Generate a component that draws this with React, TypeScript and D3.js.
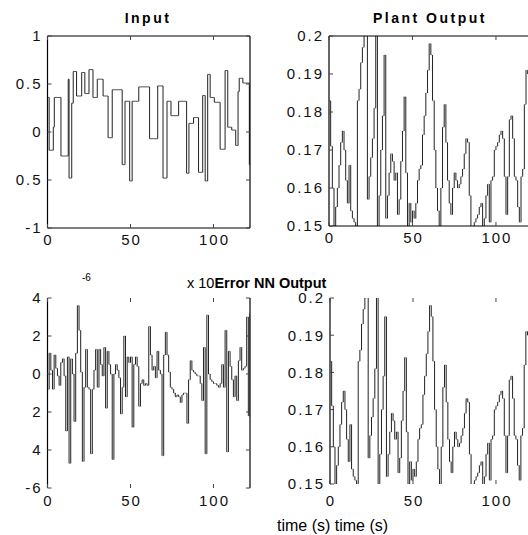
import React from 'react';
import * as d3 from 'd3';

// ---------- data ----------
const xTicks = [0, 50, 100];
const xLimit = [0, 122];

const inputTimes = [0, 1, 3.5, 4.1, 8.1, 12.5, 13, 14.6, 15.5, 17.5, 20.6, 22.5, 25, 27.4, 30, 33.5, 36.5, 39, 45, 46.7,
  49.5, 51, 55, 61.5, 66.4, 69.6, 72, 74.4, 79, 83.8, 85.2, 88, 91, 93.5, 95, 96.5, 98, 100.5, 104, 107,
  108.6, 111, 113.4, 114.8, 115.5, 117.7, 121.6];
const inputValues = [0.36, -0.19, 0.05, 0.36, -0.25, 0.55, -0.48, 0.3, 0.63, 0.375, 0.62, 0.4, 0.65, 0.36, 0.55, 0.375, -0.06, 0.44, -0.34, 0.32,
  -0.51, 0.32, 0.47, -0.07, 0.48, -0.48, 0.32, 0.17, 0.32, -0.43, 0.09, 0.15, -0.42, 0.38, -0.51, 0.6, 0.36, 0.31, -0.18, 0.64,
  0.05, 0.02, -0.14, 0.42, 0.56, 0.51, -0.34];
const inputYTicks = [-1, -0.5, 0, 0.5, 1];
const inputYTickLabels = ['-1', '0.5', '0', '0.5', '1'];

const plantOutput = [
  0.183, 0.171, 0.160, 0.150, 0.155, 0.160, 0.166, 0.172, 0.175, 0.170,
  0.162, 0.156, 0.166, 0.154, 0.152, 0.151, 0.150, 0.183, 0.186, 0.193,
  0.197, 0.200, 0.203, 0.157, 0.163, 0.168, 0.173, 0.181, 0.205, 0.149,
  0.158, 0.170, 0.179, 0.195, 0.152, 0.158, 0.164, 0.169, 0.167, 0.162,
  0.164, 0.153, 0.157, 0.167, 0.175, 0.184, 0.164, 0.150, 0.156, 0.151,
  0.154, 0.152, 0.156, 0.162, 0.165, 0.166, 0.174, 0.179, 0.185, 0.191,
  0.198, 0.195, 0.183, 0.170, 0.160, 0.154, 0.150, 0.160, 0.176, 0.182,
  0.172, 0.162, 0.156, 0.153, 0.160, 0.164, 0.162, 0.160, 0.161, 0.163,
  0.165, 0.169, 0.173, 0.172, 0.158, 0.149, 0.150, 0.151, 0.152, 0.153,
  0.155, 0.156, 0.149, 0.152, 0.158, 0.161, 0.151, 0.162, 0.163, 0.170,
  0.171, 0.172, 0.174, 0.175, 0.173, 0.163, 0.153, 0.163, 0.178, 0.179,
  0.173, 0.163, 0.162, 0.155, 0.151, 0.163, 0.165, 0.182, 0.191, 0.190,
  0.192, 0.190];
const outputYTicks = [0.15, 0.16, 0.17, 0.18, 0.19, 0.2];
const outputYTickLabels = ['0.15', '0.16', '0.17', '0.18', '0.19', '0.2'];

const errorValues = [
  -0.8, 1.1, 0.2, -0.8, 1.0, 0.3, -0.1, -0.6, 0.6, 0.8,
  -0.1, -3.0, 0.9, -4.7, 0.8, 0.0, -2.5, 1.1, 3.6, 2.3,
  0.1, -4.6, -0.7, 1.3, -0.7, -0.8, -4.2, -0.8, 0.2, 1.3,
  -0.7, 1.3, 0.5, -0.1, 1.4, -1.8, 1.2, 0.5, 0.0, -4.5,
  0.0, 0.5, 0.2, -0.2, -2.1, -0.7, 2.0, -1.2, 0.9, 0.6,
  0.9, -2.8, 0.5, 0.9, 0.4, -1.7, -0.5, -0.3, -0.6, -0.5,
  -0.6, 2.5, 1.0, 0.2, 0.4, -0.2, 1.2, 0.2, 0.0, -4.3,
  1.0, 2.2, 1.0, 0.1, -0.7, -0.8, -1.0, -1.2, -1.1, -1.2,
  -1.5, -1.1, -1.0, -1.0, -2.6, -0.3, 0.7, 0.2, 0.1, 0.0,
  -0.1, -0.1, -0.5, -1.4, 1.4, -4.2, 3.1, 0.0, -0.3, -0.4,
  -0.5, -0.5, -0.6, -0.7, -0.5, 0.5, -0.7, 2.3, -4.1, 1.2,
  0.4, -0.3, -1.2, -0.1, -1.4, 0.7, 1.4, 0.2, 0.3, 0.4,
  3.0, -2.2, 3.2];
const errorYTicks = [-6, -4, -2, 0, 2, 4];
const errorYTickLabels = ['-6', '4', '2', '0', '2', '4'];

// NN output equals the plant output up to the 1e-6 error
const nnOutput = plantOutput.map((v, i) => v + (errorValues[i] ?? 0) * 1e-6);

// ---------- drawing ----------
const FONT = '"Liberation Sans", Arial, Helvetica, sans-serif';

type PanelProps = {
  id: string;
  x0: number; x1: number; yTop: number; yBot: number;
  yDomain: [number, number];
  times: number[]; values: number[]; end: number;
  yTicks: number[]; yTickLabels: string[];
  frame: { top: boolean; bottom: boolean; left: boolean; right: boolean };
  xLabelBaseline: number;
  hColor: string;
};

function Panel(p: PanelProps) {
  const xs = d3.scaleLinear().domain(xLimit).range([p.x0, p.x1]);
  const ys = d3.scaleLinear().domain(p.yDomain).range([p.yBot, p.yTop]);
  let hPath = '';
  let vPath = '';
  for (let i = 0; i < p.values.length; i++) {
    const t = p.times[i];
    const tn = i + 1 < p.times.length ? p.times[i + 1] : p.end;
    const y = ys(p.values[i]);
    hPath += `M${xs(t)},${y}H${xs(tn)}`;
    if (i > 0) vPath += `M${xs(t)},${ys(p.values[i - 1])}V${y}`;
  }
  const tick = 4;
  return (
    <g>
      <defs>
        <clipPath id={p.id}>
          <rect x={p.x0} y={p.yTop} width={p.x1 - p.x0} height={p.yBot - p.yTop} />
        </clipPath>
      </defs>
      <g clipPath={`url(#${p.id})`} fill="none">
        <path d={hPath} stroke={p.hColor} strokeWidth={1} />
        <path d={vPath} stroke="#222" strokeWidth={1} />
      </g>
      <g stroke="#000" strokeWidth={1.2}>
        {p.frame.top && <line x1={p.x0} x2={p.x1} y1={p.yTop} y2={p.yTop} />}
        {p.frame.bottom && <line x1={p.x0} x2={p.x1} y1={p.yBot} y2={p.yBot} />}
        {p.frame.left && <line x1={p.x0} x2={p.x0} y1={p.yTop} y2={p.yBot} />}
        {p.frame.right && <line x1={p.x1} x2={p.x1} y1={p.yTop} y2={p.yBot} />}
      </g>
      <g stroke="#444" strokeWidth={1}>
        {xTicks.map((t) => (
          <g key={'xt' + t}>
            <line x1={xs(t)} x2={xs(t)} y1={p.yBot} y2={p.yBot - tick} />
            <line x1={xs(t)} x2={xs(t)} y1={p.yTop} y2={p.yTop + tick} />
          </g>
        ))}
        {p.yTicks.map((v) => (
          <g key={'yt' + v}>
            <line x1={p.x0} x2={p.x0 + tick} y1={ys(v)} y2={ys(v)} />
            <line x1={p.x1} x2={p.x1 - tick} y1={ys(v)} y2={ys(v)} />
          </g>
        ))}
      </g>
      <g fontFamily={FONT} fontSize={15} fill="#111" letterSpacing={2}>
        {xTicks.map((t) => (
          <text key={'xl' + t} x={xs(t) + 1} y={p.xLabelBaseline} textAnchor="middle">{String(t)}</text>
        ))}
        {p.yTicks.map((v, i) => (
          <text key={'yl' + v} x={p.x0 - 5} y={ys(v)} dy="0.36em" textAnchor="end">{p.yTickLabels[i]}</text>
        ))}
      </g>
    </g>
  );
}

export default function App() {
  const idx = (n: number) => d3.range(n);
  return (
    <svg width={528} height={535} style={{ position: 'absolute', left: 0, top: 0, background: '#fff' }}>
      <rect width={528} height={535} fill="#fff" />
      <Panel id="cInput" x0={47.5} x1={250} yTop={36} yBot={228} yDomain={[-1, 1]}
        times={inputTimes} values={inputValues} end={122} hColor="#555"
        yTicks={inputYTicks} yTickLabels={inputYTickLabels}
        frame={{ top: true, bottom: true, left: true, right: true }} xLabelBaseline={245} />
      <Panel id="cPlant" x0={329} x1={532.7} yTop={36} yBot={226} yDomain={[0.15, 0.2]}
        times={idx(plantOutput.length)} values={plantOutput} end={122} hColor="#b5b5b5"
        yTicks={outputYTicks} yTickLabels={outputYTickLabels}
        frame={{ top: true, bottom: true, left: true, right: true }} xLabelBaseline={243} />
      <Panel id="cError" x0={47.5} x1={250} yTop={298} yBot={488} yDomain={[-6, 4]}
        times={idx(errorValues.length)} values={errorValues} end={122} hColor="#a0a0a0"
        yTicks={errorYTicks} yTickLabels={errorYTickLabels}
        frame={{ top: false, bottom: false, left: true, right: true }} xLabelBaseline={506} />
      <Panel id="cNN" x0={330} x1={532.5} yTop={298} yBot={484} yDomain={[0.15, 0.2]}
        times={idx(nnOutput.length)} values={nnOutput} end={122} hColor="#b5b5b5"
        yTicks={outputYTicks} yTickLabels={outputYTickLabels}
        frame={{ top: false, bottom: false, left: true, right: false }} xLabelBaseline={506} />

      <g fontFamily={FONT} fill="#000">
        <text x={148} y={23} textAnchor="middle" fontWeight="bold" fontSize={14} letterSpacing={2.5}>Input</text>
        <text x={430} y={23} textAnchor="middle" fontWeight="bold" fontSize={14} letterSpacing={2.5}>Plant Output</text>
        <text x={82} y={281} fontSize={10}>-6</text>
        <text x={187} y={288} fontSize={14.5}>
          x 10<tspan fontWeight="bold">Error NN Output</tspan>
        </text>
        <text x={277} y={531} fontSize={16}>time (s) time (s)</text>
      </g>
    </svg>
  );
}
